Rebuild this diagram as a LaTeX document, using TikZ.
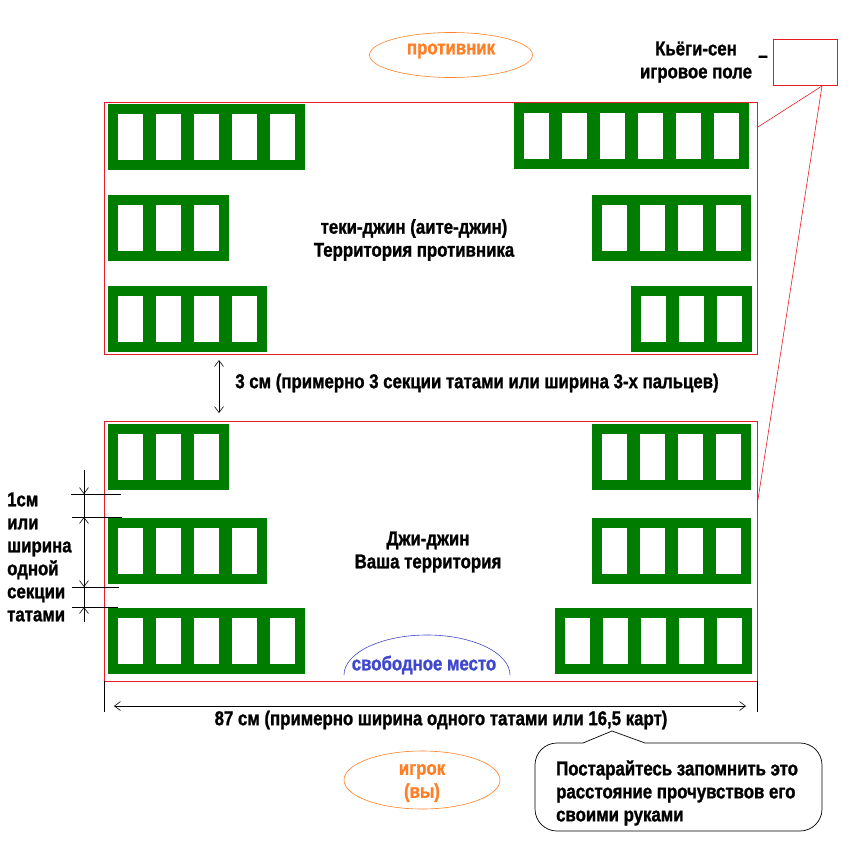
\documentclass[tikz,border=0pt]{standalone}
\usepackage{fontspec}
\setmainfont{Liberation Sans}[FakeStretch=0.84, BoldFeatures={FakeBold=1.2}]
\usetikzlibrary{
    arrows.meta,
    calc,
    positioning,
    shapes.geometric
}

\definecolor{tatamigreen}{RGB}{0,125,0}
\definecolor{fieldred}{RGB}{232,28,36}
\definecolor{labelorange}{RGB}{255,127,39}
\definecolor{freeblue}{RGB}{63,72,204}

\tikzset{
    field/.style={draw=fieldred, line width=0.9pt},
    lbl/.style={font=\bfseries\fontsize{20}{23}\selectfont, align=center, inner sep=0pt},
    sidelbl/.style={lbl, align=left, anchor=west},
    orangelbl/.style={lbl, text=labelorange},
    dimline/.style={line width=0.6pt, {Straight Barb[length=6pt,width=9pt]}-{Straight Barb[length=6pt,width=9pt]}},
    dimtip/.style={line width=0.6pt, -{Straight Barb[length=6pt,width=9pt]}},
    oval/.style={ellipse, draw=labelorange, line width=0.6pt, inner sep=0pt}
}

\begin{document}
\begin{tikzpicture}[x=1pt,y=-1pt]
\useasboundingbox (0,0) rectangle (852,846);

% Fields
\node[field, minimum width=653pt, minimum height=252pt, anchor=north west] (enemyfield) at (104,102) {};
\node[field, minimum width=653pt, minimum height=260pt, anchor=north west] (ownfield) at (104,421) {};

% Tatami blocks
\foreach \bx/\by/\n in {108/104/5, 514/103/6, 108/195/3, 592/195/4, 108/286/4, 631/286/3,
                        108/424/3, 592/424/4, 108/518/4, 592/518/4, 108/608/5, 555/608/5}{
    \fill[tatamigreen] (\bx,\by) rectangle ++({7+38*\n},66);
    \foreach \i in {1,...,\n}
        \fill[white] ({\bx+10+38*(\i-1)},{\by+10}) rectangle ++(25,46);
}

% Opponent and player
\node[oval, minimum width=163pt, minimum height=45pt] (enemyoval) at (451,55) {};
\node[orangelbl] (enemy) at (451,51) {противник};
\node[oval, minimum width=156pt, minimum height=58pt] (playeroval) at (422,780) {};
\node[orangelbl] (player) at (422,783) {игрок\\(вы)};

% Legend
\node[lbl] (legendtext) at (696,62) {Кьёги-сен\\игровое поле};
\node[lbl] (legenddash) at (763,59) {--};
\node[draw=fieldred, line width=0.7pt, minimum width=64pt, minimum height=46pt] (legendbox) at (805,62) {};
\coordinate (legendfoot) at (822,86);
\draw[fieldred, line width=0.6pt] (legendfoot) -- (enemyfield.east |- 0,127);
\draw[fieldred, line width=0.6pt] (legendfoot) -- (ownfield.east |- 0,500);

% Territories
\node[lbl] (enemyland) at (414,240) {теки-джин (аите-джин)\\Территория противника};
\node[lbl] (ownland) at (428,552) {Джи-джин\\Ваша территория};

% Free space
\draw[freeblue, line width=0.6pt] (344,675) arc[start angle=180, end angle=360, x radius=83, y radius=40];
\node[lbl, text=freeblue] (freespace) at (424,665) {свободное место};

% Gap between fields
\coordinate (gaptop) at (219,360);
\coordinate (gapbot) at (219,413);
\draw[dimline] (gaptop) -- (gapbot);
\node[lbl] (gaplbl) at (477,383) {3 см (примерно 3 секции татами или ширина 3-х пальцев)};

% Width of field
\coordinate (wl) at (104,681);
\coordinate (wr) at (757,681);
\draw[line width=0.6pt] (wl) -- ++(0,31);
\draw[line width=0.6pt] (wr) -- ++(0,31);
\draw[dimline] ($(wl)+(10,25)$) -- ($(wr)+(-11,25)$);
\node[lbl] (widthlbl) at (441,720) {87 см (примерно ширина одного татами или 16,5 карт)};

% Row gap
\coordinate (rg1) at (84,494);
\coordinate (rg2) at (84,517);
\coordinate (rg3) at (84,587);
\coordinate (rg4) at (84,607);
\draw[line width=0.6pt] (84,470) -- (84,622);
\draw[line width=0.6pt] (71,494) -- (121,494);
\draw[line width=0.6pt] (72,517) -- (122,517);
\draw[line width=0.6pt] (72,587) -- (119,587);
\draw[line width=0.6pt] (72,607) -- (118,607);
\draw[dimtip] (84,476) -- (rg1);
\draw[dimtip] (84,535) -- (rg2);
\draw[dimtip] (84,570) -- (rg3);
\draw[dimtip] (84,622) -- (rg4);
\node[sidelbl] (rowgaplbl) at (7,557) {1см\\или\\ширина\\одной\\секции\\татами};

% Callout
\coordinate (calloutpeak) at (612,731);
\draw[line width=0.7pt] (583,743) -- (calloutpeak) -- (645,743)
    [rounded corners=22pt] -- (822,743) -- (822,831) -- (535,831) -- (535,743) -- (583,743);
\node[lbl, align=left, anchor=west] (calloutlbl) at (556,793) {Постарайтесь запомнить это\\расстояние прочувствов его\\своими руками};

\end{tikzpicture}
\end{document}
